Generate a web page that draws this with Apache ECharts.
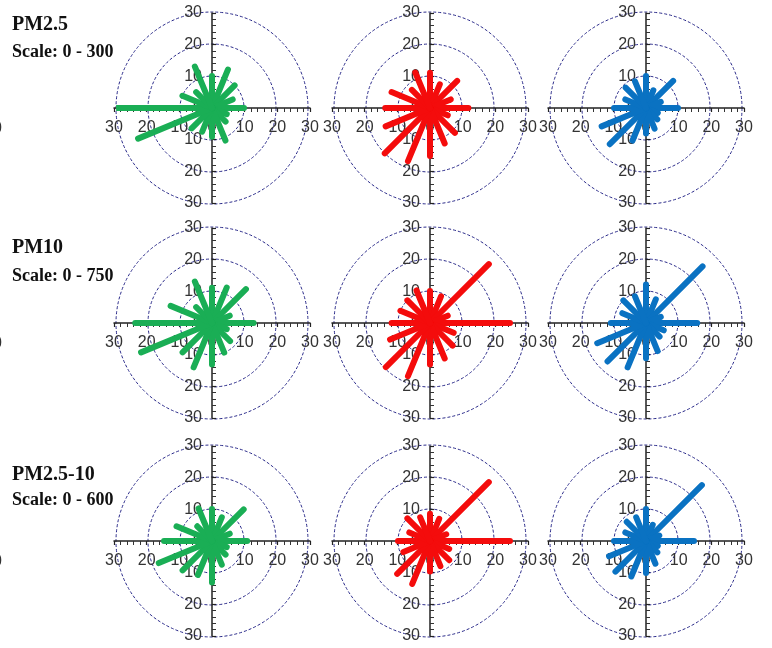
<!DOCTYPE html>
<html><head><meta charset="utf-8">
<script src="https://cdn.jsdelivr.net/npm/echarts@6/dist/echarts.min.js"></script>
<style>html,body{margin:0;padding:0;background:#fff}#c{width:772px;height:648px}</style>
</head><body><div id="c"></div>
<script>
// Wind directions (compass degrees, N = 0, clockwise)
const directions = [0, 22.5, 45, 67.5, 90, 112.5, 135, 157.5, 180, 202.5, 225, 247.5, 270, 292.5, 315, 337.5];
const directionNames = ['N','NNE','NE','ENE','E','ESE','SE','SSE','S','SSW','SW','WSW','W','WNW','NW','NNW'];
const rowTitles = ['PM2.5', 'PM10', 'PM2.5-10'];
const rowScales = ['Scale: 0 - 300', 'Scale: 0 - 750', 'Scale: 0 - 600'];
const axisTicks = [-30, -20, -10, 0, 10, 20, 30];

// Spoke lengths per direction (order as directionNames)
const pm25Green   = [10, 13, 10, 7, 10, 5, 6, 11, 9, 8, 9, 25, 30, 10, 7, 14];
const pm25Red     = [11, 8, 12, 7, 12, 6, 11, 12, 15, 18, 20, 15, 14, 13, 8, 12];
const pm25Blue    = [10, 6, 12, 5, 10, 4, 5, 7, 8, 11, 16, 15, 10, 7, 9, 9];
const pm10Green   = [11, 12, 15, 6, 13, 5, 8, 10, 13, 15, 13, 24, 24, 14, 7, 14];
const pm10Red     = [10, 9, 26, 6, 25, 8, 10, 12, 13, 18, 19.5, 13.5, 12, 10, 10, 11];
const pm10Blue    = [12, 8, 25, 5, 16, 6, 6, 9.5, 11, 15, 17, 16.5, 11, 8, 10, 9];
const coarseGreen = [10, 8, 14, 6, 11, 5, 6, 8, 13, 11.5, 13, 18, 15, 12, 6.5, 11];
const coarseRed   = [8.5, 7.5, 26, 5.5, 25, 6.5, 8.5, 8.5, 9.5, 14.5, 14.5, 9, 10, 7, 10, 8];
const coarseBlue  = [10, 5.5, 24.7, 4.5, 15, 4, 5, 7.7, 10, 12, 13.5, 12.5, 10, 7, 8.5, 8];

const panels = [
  [pm25Green, pm25Red, pm25Blue],
  [pm10Green, pm10Red, pm10Blue],
  [coarseGreen, coarseRed, coarseBlue]
];
const colors = ['#1aae55', '#f40c0c', '#0a72c2'];
const colX = [212, 430, 646];
const rowY = [108, 323, 541];
const HW = 98, HH = 95, R = 96;

const chart = echarts.init(document.getElementById('c'), null, {renderer: 'canvas'});
const grid = [], xAxis = [], yAxis = [], polar = [], angleAxis = [], radiusAxis = [], series = [];
const labelStyle = {fontFamily: 'Liberation Sans', fontSize: 16, color: '#333'};
let k = 0;
for (let r = 0; r < 3; r++) {
  for (let c = 0; c < 3; c++) {
    const cx = colX[c], cy = rowY[r];
    grid.push({left: cx - HW, top: cy - HH, width: 2 * HW, height: 2 * HH, containLabel: false});
    const axCommon = {
      gridIndex: k, type: 'value', min: axisTicks[0], max: axisTicks[axisTicks.length - 1], interval: 10,
      axisTick: {show: true, length: 4, lineStyle: {color: '#222', width: 1.2}},
      minorTick: {show: true, splitNumber: 5, length: 4, lineStyle: {color: '#333', width: 1}},
      splitLine: {show: false}, minorSplitLine: {show: false}
    };
    xAxis.push(Object.assign({}, axCommon, {
      position: 'bottom', offset: -HH,
      axisLine: {show: true, onZero: false, lineStyle: {color: '#222', width: 1.5}},
      axisLabel: Object.assign({margin: 12, formatter: v => String(Math.abs(v))}, labelStyle)
    }));
    yAxis.push(Object.assign({}, axCommon, {
      position: 'left', offset: -HW,
      axisLine: {show: true, onZero: false, lineStyle: {color: '#222', width: 1.5}},
      axisTick: {show: true, inside: true, length: 4, lineStyle: {color: '#222', width: 1.2}},
      axisLabel: Object.assign({margin: 10, formatter: v => String(Math.abs(v))}, labelStyle)
    }));
    polar.push({center: [cx, cy], radius: R});
    angleAxis.push({polarIndex: k, type: 'value', min: 0, max: 360, startAngle: 90, clockwise: true,
      axisLine: {show: false}, axisTick: {show: false}, axisLabel: {show: false}, splitLine: {show: false}});
    radiusAxis.push({polarIndex: k, type: 'value', min: 0, max: 30, interval: 10,
      axisLine: {show: false}, axisTick: {show: false}, axisLabel: {show: false},
      splitLine: {show: true, lineStyle: {color: '#2a2a8a', width: 1, type: [3, 2]}}});
    const vals = panels[r][c];
    for (let i = 0; i < directions.length; i++) {
      series.push({
        type: 'line', coordinateSystem: 'polar', polarIndex: k, name: directionNames[i],
        data: [[0, directions[i]], [vals[i], directions[i]]],
        symbol: 'none', silent: true, z: 5,
        lineStyle: {color: colors[c], width: 6, cap: 'round'}
      });
    }
    k++;
  }
}

const titleTexts = [];
const titleY = [[25, 52], [248, 276], [474.5, 500]];
for (let r = 0; r < 3; r++) {
  titleTexts.push({type: 'text', left: 12, top: titleY[r][0] - 10, style: {text: rowTitles[r], fill: '#111', font: 'bold 20px "Liberation Serif"'}});
  titleTexts.push({type: 'text', left: 12, top: titleY[r][1] - 9, style: {text: rowScales[r], fill: '#111', font: 'bold 18px "Liberation Serif"'}});
  titleTexts.push({type: 'text', x: 2, y: rowY[r] + 21, style: {text: '30', fill: '#333', font: '16px "Liberation Sans"', textAlign: 'right', textVerticalAlign: 'middle'}});
}

chart.setOption({
  animation: false,
  backgroundColor: '#ffffff',
  grid, xAxis, yAxis, polar, angleAxis, radiusAxis, series,
  graphic: titleTexts
});
</script></body></html>
